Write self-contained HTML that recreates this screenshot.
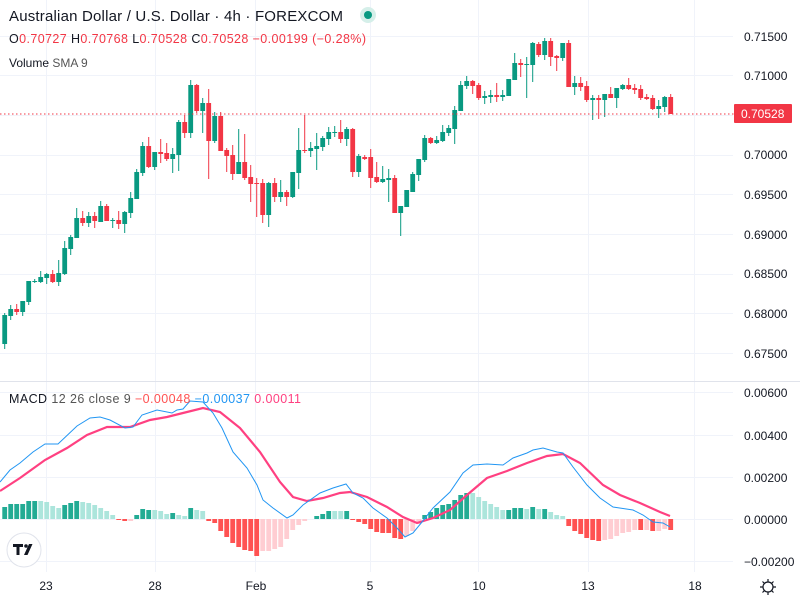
<!DOCTYPE html>
<html><head><meta charset="utf-8"><style>
html,body{margin:0;padding:0;background:#fff;width:800px;height:600px;overflow:hidden}
svg{display:block;font-family:"Liberation Sans",sans-serif}
</style></head><body>
<svg id="s" width="800" height="600" xmlns="http://www.w3.org/2000/svg">
<g stroke="#f0f3fa" stroke-width="1">
<line x1="0" y1="36.5" x2="733" y2="36.5"/><line x1="0" y1="75.5" x2="733" y2="75.5"/><line x1="0" y1="115.5" x2="733" y2="115.5"/><line x1="0" y1="155.5" x2="733" y2="155.5"/><line x1="0" y1="194.5" x2="733" y2="194.5"/><line x1="0" y1="234.5" x2="733" y2="234.5"/><line x1="0" y1="274.5" x2="733" y2="274.5"/><line x1="0" y1="313.5" x2="733" y2="313.5"/><line x1="0" y1="353.5" x2="733" y2="353.5"/>
<line x1="0" y1="392.5" x2="733" y2="392.5"/><line x1="0" y1="435.5" x2="733" y2="435.5"/><line x1="0" y1="477.5" x2="733" y2="477.5"/><line x1="0" y1="519.5" x2="733" y2="519.5"/><line x1="0" y1="561.5" x2="733" y2="561.5"/>
<line x1="46.5" y1="0" x2="46.5" y2="572"/><line x1="155.5" y1="0" x2="155.5" y2="572"/><line x1="255.5" y1="0" x2="255.5" y2="572"/><line x1="370.5" y1="0" x2="370.5" y2="572"/><line x1="478.5" y1="0" x2="478.5" y2="572"/><line x1="588.5" y1="0" x2="588.5" y2="572"/><line x1="694.5" y1="0" x2="694.5" y2="572"/>
</g>
<line x1="0" y1="381.5" x2="800" y2="381.5" stroke="#e0e3eb"/>
<g id="c"></g>
<g id="h"></g>
<polyline fill="none" stroke="#ff4081" stroke-width="2.2" points="0,491 20,478 45,460 67,448 87,435 107,427 130,427 150,420 167,417 183,413 203,408 220,412 240,428 260,452 280,482 293,497 307,501 323,498 340,493 350,492 367,497 387,507 403,517 417,523 433,518 450,510 467,495 487,478 507,471 527,463 547,456 563,454 580,463 603,485 620,495 640,503 660,512 670,516"/>
<polyline fill="none" stroke="#2196f3" stroke-width="1" points="0,482 10,470 20,463 33,452 45,444 58,444 77,426 90,418 100,417 110,420 125,428 133,427 142,415 157,410 172,413 177,410 183,409 190,401 203,402 213,413 222,428 233,452 247,468 257,485 263,500 273,508 287,518 293,515 303,505 320,493 333,488 346,484 353,493 363,498 373,508 387,518 397,528 405,537 413,533 422,522 433,508 450,492 463,473 473,465 487,464 503,465 513,458 527,453 533,450 543,448 557,452 563,453 573,467 587,485 600,498 613,507 633,510 643,515 653,522 663,523 670,527"/>
<line x1="0" y1="114" x2="734" y2="114" stroke="#f23645" stroke-width="1" stroke-dasharray="1.5,2.5"/>
<rect x="734" y="104" width="58" height="19" fill="#f23645" rx="1"/>
<text x="741" y="118" fill="#fff" font-size="12">0.70528</text>
<g fill="#131722" font-size="12">
<text x="744" y="41">0.71500</text><text x="744" y="80">0.71000</text><text x="744" y="159">0.70000</text><text x="744" y="199">0.69500</text><text x="744" y="239">0.69000</text><text x="744" y="278">0.68500</text><text x="744" y="318">0.68000</text><text x="744" y="358">0.67500</text>
<text x="744" y="397">0.00600</text><text x="744" y="440">0.00400</text><text x="744" y="482">0.00200</text><text x="744" y="524">0.00000</text><text x="744" y="566">−0.00200</text>
<text x="46" y="590" text-anchor="middle">23</text><text x="155" y="590" text-anchor="middle">28</text><text x="256" y="590" text-anchor="middle">Feb</text><text x="370" y="590" text-anchor="middle">5</text><text x="479" y="590" text-anchor="middle">10</text><text x="588" y="590" text-anchor="middle">13</text><text x="695" y="590" text-anchor="middle">18</text>
</g>
<g fill="none" stroke="#131722" stroke-width="1.2"><circle cx="768" cy="587" r="5"/><path d="M768 579v3M768 592v3M760 587h3M773 587h3M762.5 581.5l2 2M771.5 590.5l2 2M762.5 592.5l2-2M771.5 583.5l2-2"/></g>
<text x="9" y="21" font-size="15" fill="#131722" textLength="334" lengthAdjust="spacing">Australian Dollar / U.S. Dollar · 4h · FOREXCOM</text>
<circle cx="368" cy="15" r="8" fill="#d5efe9"/><circle cx="368" cy="15" r="4" fill="#089981"/>
<text x="9" y="43" font-size="12.5" fill="#f23645" textLength="357" lengthAdjust="spacing"><tspan fill="#131722">O</tspan>0.70727 <tspan fill="#131722">H</tspan>0.70768 <tspan fill="#131722">L</tspan>0.70528 <tspan fill="#131722">C</tspan>0.70528 −0.00199 (−0.28%)</text>
<text x="9" y="67" font-size="12" fill="#131722">Volume <tspan fill="#555">SMA 9</tspan></text>
<text x="9" y="403" font-size="12.5" fill="#131722" textLength="292" lengthAdjust="spacing">MACD <tspan fill="#555">12 26 close 9</tspan>  <tspan fill="#ff5252">−0.00048</tspan> <tspan fill="#2196f3">−0.00037</tspan> <tspan fill="#ff4081">0.00011</tspan></text>
<circle cx="24" cy="550" r="17" fill="#fff" stroke="#e0e3eb"/>
<path d="M13 544h10v3h-3.5v8h-3v-8H13z M24 555l5-11h3.5l-5 11z" fill="#131722"/><circle cx="26" cy="546" r="1.8" fill="#131722"/>
</svg>
<script>
var C=[["G",315,344,313,349],["G",309,316,305,320],["R",309,312,304,315],["G",301,312,301,316],["G",281,302,281,305],["G",281,282,279,283],["G",277,282,271,283],["G",274,278,273,284],["R",274,282,270,283],["G",273,282,260,286],["G",248,274,241,275],["G",237,249,235,255],["G",218,238,208,238],["R",218,223,211,226],["G",216,223,212,227],["R",216,221,212,228],["G",206,222,201,222],["R",206,221,204,221],["G",220,221,218,228],["R",220,224,211,229],["G",212,224,211,233],["G",198,213,192,218],["G",172,199,169,199],["G",146,173,142,176],["R",146,167,137,168],["G",152,167,152,170],["R",152,154,139,163],["R",153,159,143,161],["G",154,159,148,173],["G",122,155,120,171],["R",122,133,115,138],["G",85,133,80,138],["R",85,111,84,113],["G",103,111,98,133],["R",103,141,89,179],["G",116,141,112,143],["R",116,151,112,151],["R",150,156,148,172],["R",155,174,145,180],["G",162,174,129,174],["R",162,178,134,180],["R",177,184,165,202],["R",183,184,178,217],["R",183,215,179,223],["G",183,215,182,227],["R",183,197,178,202],["G",192,197,180,202],["R",192,197,190,206],["G",172,197,172,198],["G",150,173,128,189],["R",150,151,115,153],["G",148,151,142,157],["G",146,149,133,170],["G",138,147,136,151],["G",132,139,127,145],["G",132,133,126,137],["R",132,139,120,143],["G",129,139,127,146],["R",129,172,128,177],["G",156,172,154,177],["R",157,159,155,160],["R",157,178,149,188],["R",177,182,162,183],["G",179,182,166,183],["G",178,180,169,202],["R",178,213,175,213],["G",206,213,206,236],["G",190,207,190,207],["G",174,192,172,192],["G",159,175,159,181],["G",138,160,135,162],["R",138,143,137,144],["G",140,143,136,144],["G",132,141,125,142],["G",128,133,125,136],["G",110,129,106,144],["G",85,111,81,111],["G",81,86,76,89],["R",81,86,80,94],["R",85,98,83,100],["G",96,98,91,104],["G",95,97,90,103],["R",95,97,83,102],["G",95,97,90,101],["G",79,96,79,96],["G",63,80,53,80],["R",63,65,59,77],["G",64,65,57,98],["G",43,65,42,82],["R",44,55,42,57],["G",41,55,38,60],["R",41,57,38,66],["R",56,58,55,71],["G",43,58,43,61],["R",43,87,40,87],["G",83,87,76,95],["R",83,87,77,91],["R",86,100,81,102],["G",98,100,95,120],["R",98,100,95,119],["G",94,100,94,117],["R",94,98,87,98],["G",88,98,88,108],["G",85,89,84,90],["R",85,89,78,90],["R",88,90,84,94],["R",89,98,85,100],["R",97,99,94,100],["R",98,109,95,110],["G",106,109,100,118],["G",97,107,96,112],["R",97,114,94,114]];
var H=[12,15,15,15,18,18,-18,-17,-13,-11,14,16,18,-17,-16,-14,-11,-8,-4,"r1","r2","p2",4,10,9,-9,-8,-5,6,-4,-3,11,-9,-8,"r2","r4","r12","r18","r24","r28","r31","r32","r37","p32","p32","p30","p28","p20","p11","p6","p2",0,3,5,8,-8,-8,8,"r1","r3","r5","r10","r13","r14","r14","r19","r20","p17","p12","p5",4,7,11,14,15,19,24,26,-26,-22,-18,-15,-12,-9,9,11,11,-10,12,-10,10,-7,-4,-3,"r7","r12","r15","r19","r21","r22","p21","p20","p17","p14","p13","p11","r11","p11","r12","p12","p10","r11"];
var s="";
C.forEach(function(c,i){var x=4.7+6*i,col=c[0]=="G"?"#089981":"#f23645";var b=Math.max(1,c[2]-c[1]);
s+='<line x1="'+x+'" x2="'+x+'" y1="'+c[3]+'" y2="'+c[4]+'" stroke="'+col+'" stroke-width="1"/>';
s+='<rect x="'+(x-2.4)+'" y="'+c[1]+'" width="4.8" height="'+b+'" fill="'+col+'"/>';});
document.getElementById("c").innerHTML=s;
s="";var z=519;
H.forEach(function(v,i){var x=4.7+6*i,col,h;
if(typeof v=="string"){col=v[0]=="r"?"#ff5252":"#ffcdd2";h=parseInt(v.slice(1));s+='<rect x="'+(x-2.4)+'" y="'+z+'" width="4.8" height="'+Math.max(h,1)+'" fill="'+col+'"/>';}
else{if(v==0)return;col=v>0?"#22ab94":"#ace5dc";h=Math.abs(v);s+='<rect x="'+(x-2.4)+'" y="'+(z-h)+'" width="4.8" height="'+h+'" fill="'+col+'"/>';}});
document.getElementById("h").innerHTML=s;
</script>
</body></html>
